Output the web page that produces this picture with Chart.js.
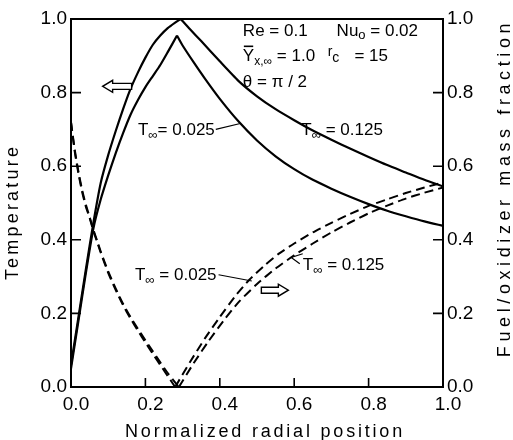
<!DOCTYPE html>
<html>
<head>
<meta charset="utf-8">
<script src="https://cdn.jsdelivr.net/npm/chart.js@4.4.1/dist/chart.umd.min.js"></script>
<style>
  html, body { margin: 0; padding: 0; background: #fff; }
  #wrap { width: 513px; height: 440px; }
</style>
</head>
<body>
<div id="wrap"><canvas id="c" width="513" height="440"></canvas></div>
<script>
// Temperature profiles (left axis)
const tempHotX  = [0, 0.02, 0.04, 0.06, 0.08, 0.1, 0.12, 0.14, 0.16, 0.18, 0.2, 0.22, 0.24, 0.26, 0.28, 0.295,
                   0.32, 0.35, 0.4, 0.45, 0.5, 0.55, 0.6, 0.65, 0.7, 0.75, 0.8, 0.85, 0.9, 0.95, 1.0];
const tempHotY  = [0.06, 0.19, 0.32, 0.445, 0.555, 0.63, 0.695, 0.755, 0.81, 0.855, 0.895, 0.93, 0.955, 0.975, 0.99, 1.0,
                   0.972, 0.94, 0.885, 0.832, 0.79, 0.755, 0.725, 0.697, 0.672, 0.648, 0.625, 0.603, 0.583, 0.563, 0.545];
const tempColdX = [0, 0.02, 0.04, 0.06, 0.08, 0.1, 0.12, 0.14, 0.16, 0.18, 0.2, 0.22, 0.24, 0.26, 0.285,
                   0.3, 0.33, 0.36, 0.4, 0.45, 0.5, 0.55, 0.6, 0.65, 0.7, 0.75, 0.8, 0.85, 0.9, 0.95, 1.0];
const tempColdY = [0.05, 0.18, 0.31, 0.43, 0.51, 0.575, 0.635, 0.69, 0.74, 0.78, 0.815, 0.845, 0.875, 0.91, 0.955,
                   0.928, 0.882, 0.838, 0.783, 0.722, 0.67, 0.627, 0.592, 0.563, 0.539, 0.517, 0.497, 0.479, 0.464, 0.45, 0.438];

// Fuel / oxidizer mass fraction profiles (right axis)
const fracHotX  = [0, 0.01, 0.02, 0.03, 0.04, 0.05, 0.06, 0.07, 0.08, 0.1, 0.12, 0.14, 0.16, 0.18, 0.2, 0.22, 0.24, 0.26, 0.29,
                   0.33, 0.37, 0.41, 0.45, 0.5, 0.55, 0.6, 0.65, 0.7, 0.75, 0.8, 0.85, 0.9, 0.95, 1.0];
const fracHotY  = [0.72, 0.645, 0.585, 0.535, 0.495, 0.462, 0.428, 0.398, 0.368, 0.314, 0.268, 0.226, 0.19, 0.158, 0.127, 0.097, 0.067, 0.038, 0,
                   0.065, 0.125, 0.18, 0.23, 0.28, 0.322, 0.358, 0.39, 0.42, 0.447, 0.472, 0.493, 0.512, 0.528, 0.542];
const fracColdX = [0, 0.01, 0.02, 0.03, 0.04, 0.05, 0.06, 0.07, 0.08, 0.1, 0.12, 0.14, 0.16, 0.18, 0.2, 0.22, 0.24, 0.26, 0.28,
                   0.32, 0.36, 0.4, 0.44, 0.48, 0.52, 0.56, 0.6, 0.65, 0.7, 0.75, 0.8, 0.85, 0.9, 0.95, 1.0];
const fracColdY = [0.72, 0.64, 0.58, 0.53, 0.49, 0.46, 0.425, 0.395, 0.365, 0.31, 0.264, 0.222, 0.186, 0.153, 0.121, 0.09, 0.06, 0.03, 0,
                   0.068, 0.132, 0.19, 0.245, 0.292, 0.33, 0.363, 0.39, 0.42, 0.446, 0.47, 0.492, 0.51, 0.527, 0.542, 0.556];

const axisTicks = [0, 0.2, 0.4, 0.6, 0.8, 1.0];

const FONT = '"Liberation Sans", Arial, sans-serif';
const INK = '#000';

// Split a profile at its cusp so both branches meet at a sharp corner.
function branches(xs, ys, cuspIndex, axis, dashed) {
  const pts = xs.map((x, i) => ({ x, y: ys[i] }));
  const style = {
    yAxisID: axis,
    borderColor: INK,
    borderWidth: dashed ? 2 : 2.2,
    borderDash: dashed ? [9, 5] : [],
    pointRadius: 0,
    tension: 0.2,
    fill: false
  };
  return [
    Object.assign({ data: pts.slice(0, cuspIndex + 1) }, style),
    Object.assign({ data: pts.slice(cuspIndex) }, style)
  ];
}
const argMax = a => a.indexOf(Math.max(...a));
const argMin = a => a.indexOf(Math.min(...a));

const datasets = [
  ...branches(tempHotX, tempHotY, argMax(tempHotY), 'y', false),
  ...branches(tempColdX, tempColdY, argMax(tempColdY), 'y', false),
  ...branches(fracHotX, fracHotY, argMin(fracHotY), 'y2', true),
  ...branches(fracColdX, fracColdY, argMin(fracColdY), 'y2', true)
];

// Draw a run of text pieces (normal / subscript) starting at (x, y) baseline.
function drawRuns(ctx, x, y, runs) {
  let cx = x;
  runs.forEach(r => {
    ctx.font = (r.size || 17) + 'px ' + FONT;
    const w = ctx.measureText(r.t).width;
    ctx.fillText(r.t, cx, y + (r.dy || 0));
    if (r.bar) {
      ctx.save();
      ctx.lineWidth = 1.6;
      ctx.beginPath();
      ctx.moveTo(cx + 1, y - 15);
      ctx.lineTo(cx + w - 1, y - 15);
      ctx.stroke();
      ctx.restore();
    }
    cx += w;
  });
  return cx;
}

function hollowArrow(ctx, cx, cy, len, dir) {
  const hl = 10, hh = 6, sh = 3;
  const half = len / 2;
  const s = dir; // 1 = right, -1 = left
  const tip = cx + s * half, tail = cx - s * half, neck = tip - s * hl;
  ctx.beginPath();
  ctx.moveTo(tail, cy - sh);
  ctx.lineTo(neck, cy - sh);
  ctx.lineTo(neck, cy - hh);
  ctx.lineTo(tip, cy);
  ctx.lineTo(neck, cy + hh);
  ctx.lineTo(neck, cy + sh);
  ctx.lineTo(tail, cy + sh);
  ctx.closePath();
  ctx.fillStyle = '#fff';
  ctx.fill();
  ctx.stroke();
  ctx.fillStyle = INK;
}

const decor = {
  id: 'decor',
  afterDraw(chart) {
    const { ctx, chartArea: a, scales } = chart;
    const X = v => scales.x.getPixelForValue(v);
    const Y = v => scales.y.getPixelForValue(v);
    ctx.save();
    ctx.strokeStyle = INK;
    ctx.fillStyle = INK;

    // plot frame
    ctx.lineWidth = 2;
    ctx.strokeRect(a.left, a.top, a.right - a.left, a.bottom - a.top);

    // inward tick marks
    ctx.lineWidth = 1.6;
    ctx.beginPath();
    scales.x.ticks.forEach(t => {
      const px = X(t.value);
      ctx.moveTo(px, a.bottom); ctx.lineTo(px, a.bottom - 9);
    });
    scales.y.ticks.forEach(t => {
      const py = Y(t.value);
      ctx.moveTo(a.left, py); ctx.lineTo(a.left + 10, py);
    });
    scales.y2.ticks.forEach(t => {
      const py = scales.y2.getPixelForValue(t.value);
      ctx.moveTo(a.right, py); ctx.lineTo(a.right - 10, py);
    });
    ctx.stroke();

    // parameter block
    ctx.textAlign = 'left';
    ctx.textBaseline = 'alphabetic';
    drawRuns(ctx, X(0.462), Y(0.953), [{ t: 'Re = 0.1' }]);
    drawRuns(ctx, X(0.714), Y(0.953), [{ t: 'Nu' }, { t: 'o', size: 13, dy: 3 }, { t: ' = 0.02' }]);
    drawRuns(ctx, X(0.462), Y(0.885), [{ t: 'Y', bar: true }, { t: 'x,\u221E', size: 12, dy: 4 }, { t: ' = 1.0' }]);
    drawRuns(ctx, X(0.690), Y(0.885), [{ t: 'r', size: 14, dy: -5 }, { t: 'c', size: 14, dy: 1 }]);
    drawRuns(ctx, X(0.762), Y(0.885), [{ t: '= 15' }]);
    drawRuns(ctx, X(0.462), Y(0.814), [{ t: '\u03B8 = \u03C0 / 2' }]);

    // curve labels
    const sub = { t: '\u221E', size: 13, dy: 4 };
    let end = drawRuns(ctx, X(0.18), Y(0.686), [{ t: 'T' }, sub, { t: '= 0.025' }]);
    ctx.lineWidth = 1.2;
    ctx.beginPath();
    ctx.moveTo(end + 1, Y(0.700)); ctx.lineTo(X(0.455), Y(0.716));
    ctx.stroke();

    drawRuns(ctx, X(0.619), Y(0.686), [{ t: 'T' }, sub, { t: ' = 0.125' }]);

    end = drawRuns(ctx, X(0.172), Y(0.291), [{ t: 'T' }, sub, { t: ' = 0.025' }]);
    ctx.beginPath();
    ctx.moveTo(end + 2, Y(0.305)); ctx.lineTo(X(0.486), Y(0.288));
    ctx.stroke();

    drawRuns(ctx, X(0.623), Y(0.318), [{ t: 'T' }, sub, { t: ' = 0.125' }]);
    ctx.beginPath();
    ctx.moveTo(X(0.623), Y(0.362)); ctx.lineTo(X(0.592), Y(0.352)); ctx.lineTo(X(0.615), Y(0.335));
    ctx.stroke();

    // direction arrows (which axis each family belongs to)
    ctx.lineWidth = 1.4;
    hollowArrow(ctx, X(0.124), Y(0.817), 29, -1);
    hollowArrow(ctx, X(0.548), Y(0.263), 27, 1);

    // axis titles
    ctx.fillStyle = INK;
    ctx.font = '18px ' + FONT;
    ctx.textAlign = 'center';
    ctx.textBaseline = 'middle';
    ctx.letterSpacing = '2.8px';
    ctx.fillText('Normalized radial position', 265, 432);

    ctx.letterSpacing = '3.2px';
    ctx.save();
    ctx.translate(13, 212);
    ctx.rotate(-Math.PI / 2);
    ctx.fillText('Temperature', 0, 0);
    ctx.restore();

    ctx.letterSpacing = '4.6px';
    ctx.save();
    ctx.translate(505, 188);
    ctx.rotate(-Math.PI / 2);
    ctx.fillText('Fuel/oxidizer mass fraction', 0, 0);
    ctx.restore();

    ctx.letterSpacing = '0px';
    ctx.restore();
  }
};

const tickFont = { family: FONT, size: 19 };
const fmt = v => Number(v).toFixed(1);
const noGrid = { display: false, drawTicks: false, tickLength: 0 };

new Chart(document.getElementById('c'), {
  type: 'line',
  data: { datasets },
  options: {
    responsive: false,
    animation: false,
    devicePixelRatio: 1,
    layout: { padding: { top: 19, left: 0, right: 0, bottom: 0 } },
    plugins: { legend: { display: false }, tooltip: { enabled: false } },
    scales: {
      x: {
        type: 'linear', position: 'bottom', min: 0, max: 1,
        afterBuildTicks: s => { s.ticks = axisTicks.map(v => ({ value: v })); },
        ticks: { font: tickFont, color: INK, padding: 6, labelOffset: 5, callback: fmt, maxRotation: 0 },
        grid: noGrid, border: { display: false },
        afterFit: s => { s.height = 53; }
      },
      y: {
        type: 'linear', position: 'left', min: 0, max: 1,
        afterBuildTicks: s => { s.ticks = axisTicks.map(v => ({ value: v })); },
        ticks: { font: tickFont, color: INK, padding: 4, callback: fmt },
        grid: noGrid, border: { display: false },
        afterFit: s => { s.width = 71; }
      },
      y2: {
        type: 'linear', position: 'right', min: 0, max: 1,
        afterBuildTicks: s => { s.ticks = axisTicks.map(v => ({ value: v })); },
        ticks: { font: tickFont, color: INK, padding: 4, callback: fmt },
        grid: noGrid, border: { display: false },
        afterFit: s => { s.width = 70; }
      }
    }
  },
  plugins: [decor]
});
</script>
</body>
</html>
